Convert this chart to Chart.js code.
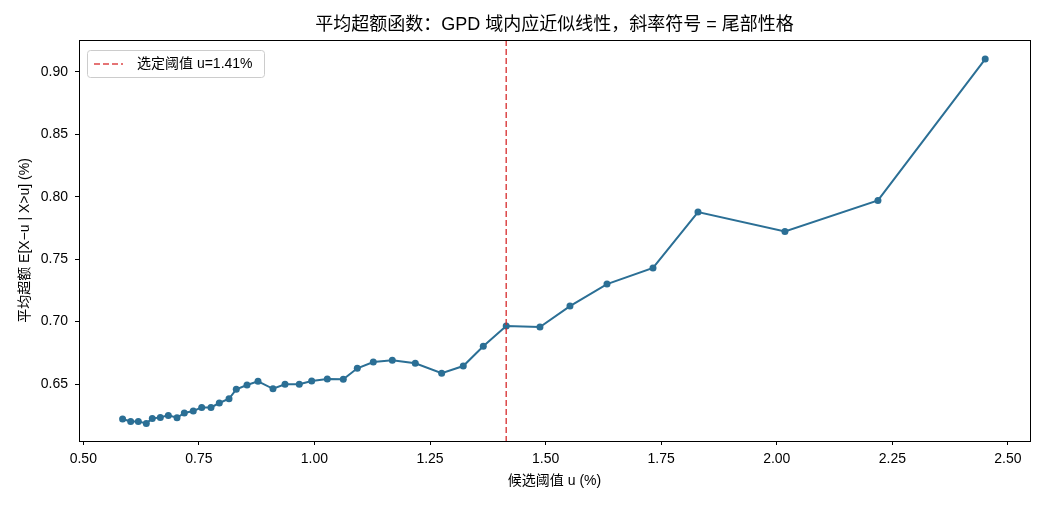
<!DOCTYPE html>
<html>
<head>
<meta charset="utf-8">
<script src="https://cdn.jsdelivr.net/npm/chart.js@4.4.1/dist/chart.umd.min.js"></script>
<style>
  html, body { margin: 0; padding: 0; background: #fff; }
  #wrap { width: 1045px; height: 505px; }
</style>
</head>
<body>
<div id="wrap"><canvas id="mef"></canvas></div>
<script>
// candidate thresholds u (%) and mean excess values (%)
const thresholds = [0.585, 0.6025, 0.619, 0.6363, 0.6492, 0.6666, 0.6839, 0.7027, 0.7185, 0.7379,
  0.7561, 0.7762, 0.7942, 0.8152, 0.8309, 0.8541, 0.8779, 0.9103, 0.9363, 0.9672,
  0.994, 1.0278, 1.0624, 1.0927, 1.1273, 1.1684, 1.2181, 1.2752, 1.3219, 1.3652,
  1.4148, 1.4878, 1.5527, 1.6328, 1.7323, 1.8296, 2.0177, 2.2189, 2.4509];
const meanExcess = [0.622, 0.6201, 0.6201, 0.6185, 0.6225, 0.6233, 0.6249, 0.623, 0.6268, 0.6284,
  0.6313, 0.6313, 0.6348, 0.6382, 0.6458, 0.6492, 0.6522, 0.6462, 0.6498, 0.6498,
  0.6524, 0.654, 0.6538, 0.6626, 0.6676, 0.669, 0.6666, 0.6586, 0.6644, 0.6802,
  0.6964, 0.6956, 0.7124, 0.73, 0.7429, 0.7877, 0.7722, 0.797, 0.9101];
const chosenU = 1.4148;
const xTicks = [0.5, 0.75, 1.0, 1.25, 1.5, 1.75, 2.0, 2.25, 2.5];
const yTicks = [0.65, 0.70, 0.75, 0.80, 0.85, 0.90];

const FONT = '"Liberation Sans", "Noto Sans CJK SC", sans-serif';
const lineColor = '#2b6f95';
const redColor = 'rgba(214,39,40,0.85)';

const points = thresholds.map((u, i) => ({x: u, y: meanExcess[i]}));

const framePlugin = {
  id: 'frame',
  afterDatasetsDraw(chart) {
    const {ctx, chartArea: a, scales} = chart;
    // threshold line
    const px = scales.x.getPixelForValue(chosenU);
    ctx.save();
    ctx.strokeStyle = redColor;
    ctx.lineWidth = 1.5;
    ctx.setLineDash([6, 3]);
    ctx.beginPath();
    ctx.moveTo(px, a.top);
    ctx.lineTo(px, a.bottom);
    ctx.stroke();
    ctx.restore();
  },
  afterDraw(chart) {
    const {ctx, chartArea: a} = chart;
    ctx.save();
    // axes box
    ctx.strokeStyle = '#000';
    ctx.lineWidth = 1;
    ctx.strokeRect(Math.round(a.left) + 0.5, Math.round(a.top) + 0.5,
      Math.round(a.right - a.left), Math.round(a.bottom - a.top));
    // title
    ctx.fillStyle = '#000';
    ctx.font = '18px ' + FONT;
    ctx.textAlign = 'center';
    ctx.textBaseline = 'middle';
    ctx.fillText('平均超额函数：GPD 域内应近似线性，斜率符号 = 尾部性格', (a.left + a.right) / 2, 25);
    // legend
    const lx = a.left + 8, ly = a.top + 10, lw = 177, lh = 27;
    ctx.beginPath();
    ctx.roundRect(lx + 0.5, ly + 0.5, lw, lh, 3);
    ctx.fillStyle = 'rgba(255,255,255,0.8)';
    ctx.fill();
    ctx.strokeStyle = '#cccccc';
    ctx.lineWidth = 1;
    ctx.stroke();
    ctx.strokeStyle = redColor;
    ctx.lineWidth = 1.5;
    ctx.setLineDash([6, 3]);
    ctx.beginPath();
    ctx.moveTo(lx + 7, ly + lh / 2 + 0.5);
    ctx.lineTo(lx + 36, ly + lh / 2 + 0.5);
    ctx.stroke();
    ctx.setLineDash([]);
    ctx.fillStyle = '#000';
    ctx.font = '14px ' + FONT;
    ctx.textAlign = 'left';
    ctx.fillText('选定阈值 u=1.41%', lx + 50, ly + lh / 2 + 1);
    ctx.restore();
  }
};

new Chart(document.getElementById('mef').getContext('2d'), {
  type: 'scatter',
  data: {
    datasets: [{
      label: '平均超额',
      data: points,
      showLine: true,
      borderColor: lineColor,
      backgroundColor: lineColor,
      borderWidth: 2,
      pointRadius: 3.5,
      pointHoverRadius: 3.5,
      pointBorderWidth: 0,
      tension: 0
    }]
  },
  options: {
    responsive: true,
    maintainAspectRatio: false,
    animation: false,
    layout: { padding: { left: 0, right: 15, top: 40, bottom: 0 } },
    plugins: {
      legend: { display: false },
      title: { display: false },
      tooltip: { enabled: false }
    },
    scales: {
      x: {
        type: 'linear',
        min: 0.4907,
        max: 2.5478,
        afterBuildTicks: s => { s.ticks = xTicks.map(v => ({value: v})); },
        afterFit: s => { s.height = 64; },
        grid: { drawOnChartArea: false, drawTicks: true, tickLength: 4, color: '#000' },
        border: { display: true, color: '#000' },
        ticks: {
          color: '#000', padding: 6,
          font: { family: FONT, size: 14 },
          callback: v => Number(v).toFixed(2)
        },
        title: {
          display: true, text: '候选阈值 u (%)', color: '#000',
          font: { family: FONT, size: 14 }, padding: { top: 4, bottom: 15 }
        }
      },
      y: {
        type: 'linear',
        min: 0.6044,
        max: 0.9254,
        afterBuildTicks: s => { s.ticks = yTicks.map(v => ({value: v})); },
        afterFit: s => { s.width = 79; },
        grid: { drawOnChartArea: false, drawTicks: true, tickLength: 4, color: '#000' },
        border: { display: true, color: '#000' },
        ticks: {
          color: '#000', padding: 7,
          font: { family: FONT, size: 14 },
          callback: v => Number(v).toFixed(2)
        },
        title: {
          display: true, text: '平均超额 E[X−u | X>u] (%)', color: '#000',
          font: { family: FONT, size: 14 }, padding: { top: 17, bottom: 0 }
        }
      }
    }
  },
  plugins: [framePlugin]
});
</script>
</body>
</html>
